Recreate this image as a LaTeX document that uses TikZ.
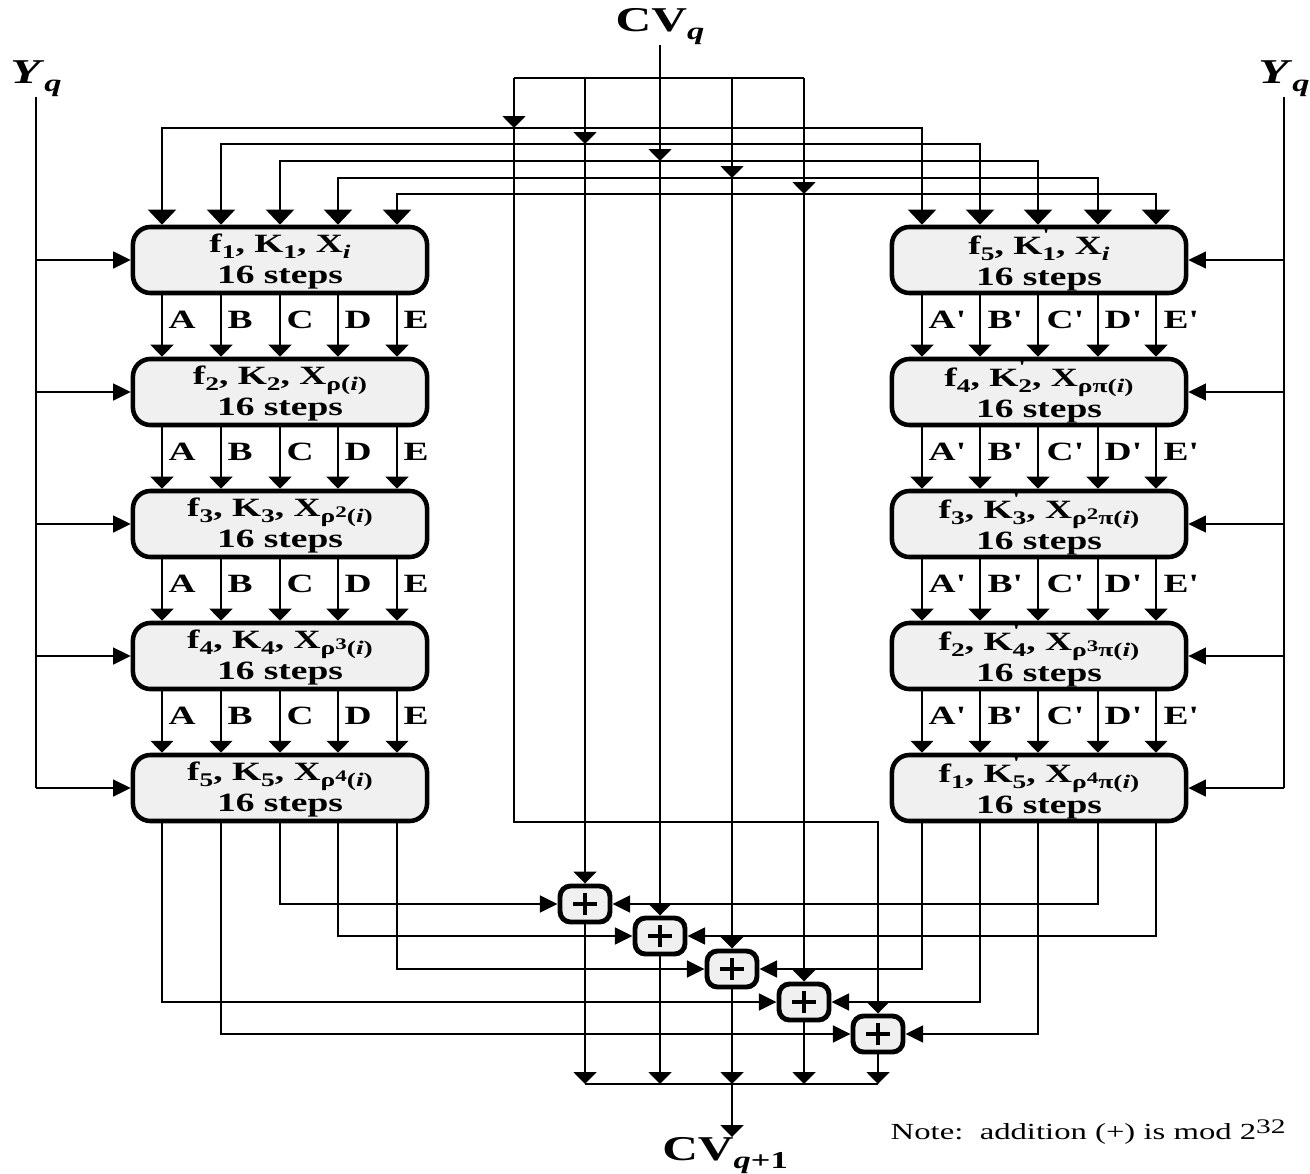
\documentclass[tikz,border=0pt]{standalone}
\usepackage{fontspec}
\setmainfont{Liberation Serif}[FakeStretch=1.42,Ligatures=TeXOff]
\usetikzlibrary{arrows.meta}
\newcommand{\sbs}[2]{\raisebox{-0.5ex}{\fontsize{#1}{#1}\selectfont #2}}
\newcommand{\lo}[1]{\sbs{5.5}{#1}}
\newcommand{\lop}[1]{\rlap{\raisebox{1.1ex}{\fontsize{5.5}{5.5}\selectfont '}}\lo{#1}}
\newcommand{\hi}[1]{\raisebox{0.55ex}{\fontsize{4.6}{4.6}\selectfont #1}}
\newcommand{\stp}{\rule{0pt}{6pt}}
\begin{document}
\begin{tikzpicture}[x=0.01cm,y=-0.01cm,
  ln/.style={line width=0.6pt},
  arrV/.style={ln,-{Triangle[width=6.5pt,length=3.4pt]}},
  arrT/.style={ln,{Triangle[width=8pt,length=4.3pt]}-{Triangle[width=8pt,length=4.3pt]}},
  arrH/.style={ln,-{Triangle[width=4.8pt,length=5pt]}},
  rnd/.style={draw,line width=1.3pt,fill=gray!12,rounded corners=5pt,
    minimum width=2.94cm,minimum height=0.66cm,inner sep=0pt,align=center,
    font=\bfseries\fontsize{7.5}{8.9}\selectfont},
  adder/.style={draw,line width=1.4pt,fill=gray!12,rounded corners=3pt,
    minimum width=0.5cm,minimum height=0.36cm,inner sep=0pt,
    path picture={
      \draw[line width=1.3pt] ([xshift=-3.4pt]path picture bounding box.center) -- ([xshift=3.4pt]path picture bounding box.center);
      \draw[line width=1.3pt] ([yshift=-3.2pt]path picture bounding box.center) -- ([yshift=3.2pt]path picture bounding box.center);}},
  lbl/.style={anchor=west,inner sep=0pt,font=\bfseries\fontsize{7.5}{7.5}\selectfont},
  big/.style={inner sep=0pt,font=\bfseries\fontsize{9.9}{9.9}\selectfont}
]
\useasboundingbox (0,0) rectangle (1310,1173);

% boxes
\node[rnd] (L1) at (280,260) {\stp f\lo{1}, K\lo{1}, X\lo{\textit{i}}\\16 steps};
\node[rnd] (L2) at (280,392) {\stp f\lo{2}, K\lo{2}, X\lo{ρ(\textit{i})}\\16 steps};
\node[rnd] (L3) at (280,524) {\stp f\lo{3}, K\lo{3}, X\lo{ρ\hi{2}(\textit{i})}\\16 steps};
\node[rnd] (L4) at (280,656) {\stp f\lo{4}, K\lo{4}, X\lo{ρ\hi{3}(\textit{i})}\\16 steps};
\node[rnd] (L5) at (280,788) {\stp f\lo{5}, K\lo{5}, X\lo{ρ\hi{4}(\textit{i})}\\16 steps};
\node[rnd] (R1) at (1039,260) {\stp f\lo{5}, K\lop{1}, X\lo{\textit{i}}\\16 steps};
\node[rnd] (R2) at (1039,392) {\stp f\lo{4}, K\lop{2}, X\lo{ρπ(\textit{i})}\\16 steps};
\node[rnd] (R3) at (1039,524) {\stp f\lo{3}, K\lop{3}, X\lo{ρ\hi{2}π(\textit{i})}\\16 steps};
\node[rnd] (R4) at (1039,656) {\stp f\lo{2}, K\lop{4}, X\lo{ρ\hi{3}π(\textit{i})}\\16 steps};
\node[rnd] (R5) at (1039,788) {\stp f\lo{1}, K\lop{5}, X\lo{ρ\hi{4}π(\textit{i})}\\16 steps};

% adders
\node[adder] (A1) at (585,904) {};
\node[adder] (A2) at (660,936) {};
\node[adder] (A3) at (732,969) {};
\node[adder] (A4) at (804,1002) {};
\node[adder] (A5) at (878,1034) {};

% labels
\node[big,anchor=south] (cvq) at (660,45) {CV\sbs{6.9}{\textit{q}}};
\node[big,anchor=north] (cvq1) at (725,1137) {CV\sbs{6.9}{\textit{q}+1}};
\node[big,anchor=south] (yl) at (36,97) {\textit{Y}\sbs{6.9}{\textit{q}}};
\node[big,anchor=south] (yr) at (1284,97) {\textit{Y}\sbs{6.9}{\textit{q}}};
\node[anchor=west,inner sep=0pt,font=\fontsize{6.55}{6.55}\selectfont] (note) at (890,1132)
  {Note:\ \ addition (+) is mod 2\raisebox{0.6ex}{\fontsize{5.9}{5.9}\selectfont 32}};

% lanes
\coordinate (la) at (162,0); \coordinate (lb) at (221,0); \coordinate (lc) at (280,0);
\coordinate (ld) at (338,0); \coordinate (le) at (397,0);
\coordinate (ra) at (922,0); \coordinate (rb) at (980,0); \coordinate (rc) at (1038,0);
\coordinate (rd) at (1098,0); \coordinate (re) at (1156,0);
\coordinate (ha) at (0,128); \coordinate (hb) at (0,144); \coordinate (hc) at (0,161);
\coordinate (hd) at (0,178); \coordinate (he) at (0,194);
\coordinate (bus) at (0,78); \coordinate (ob) at (0,1084);
\coordinate (c0) at (514,78); \coordinate (c0b) at (514,822);

% between boxes
\foreach \k/\n in {1/2,2/3,3/4,4/5}{
  \foreach \l in {a,b,c,d,e}{
    \draw[arrV] (L\k.south -| l\l) -- (L\n.north -| l\l);
    \draw[arrV] (R\k.south -| r\l) -- (R\n.north -| r\l);
  }
}
\foreach \k/\yy in {1/320,2/452,3/584,4/716}{
  \foreach \l/\tx/\xx in {a/A/168,b/B/227,c/C/286,d/D/344,e/E/403}{
    \node[lbl] (lab\l\k) at (\xx,\yy) {\tx};
    \node[lbl] (rlab\l\k) at (\xx+760,\yy) {\tx'};
  }
}

% top distribution
\foreach \l in {a,b,c,d,e}{
  \draw[arrT] (L1.north -| l\l) -- (l\l |- h\l) -- (r\l |- h\l) -- (R1.north -| r\l);
}

% CV_q
\draw[ln] (c0) -- (A4 |- bus);
\draw[arrV] (cvq.south) -- (A2 |- hc);
\draw[arrV] (A2 |- hc) -- (A2.north);
\draw[arrV] (A1 |- bus) -- (A1 |- hb);
\draw[arrV] (A1 |- hb) -- (A1.north);
\draw[arrV] (A3 |- bus) -- (A3 |- hd);
\draw[arrV] (A3 |- hd) -- (A3.north);
\draw[arrV] (A4 |- bus) -- (A4 |- he);
\draw[arrV] (A4 |- he) -- (A4.north);
\draw[arrV] (c0) -- (c0 |- ha);
\draw[arrV] (c0 |- ha) -- (c0b) -| (A5.north);

% Y_q
\draw[ln] (yl.south) -- (yl.south |- L5.west);
\draw[ln] (yr.south) -- (yr.south |- R5.west);
\foreach \k in {1,...,5}{
  \draw[arrH] (yl.south |- L\k.west) -- (L\k.west);
  \draw[arrH] (yr.south |- R\k.east) -- (R\k.east);
}

% into adders
\draw[arrH] (L5.south -| lc) |- (A1.west);
\draw[arrH] (L5.south -| ld) |- (A2.west);
\draw[arrH] (L5.south -| le) |- (A3.west);
\draw[arrH] (L5.south -| la) |- (A4.west);
\draw[arrH] (L5.south -| lb) |- (A5.west);
\draw[arrH] (R5.south -| rd) |- (A1.east);
\draw[arrH] (R5.south -| re) |- (A2.east);
\draw[arrH] (R5.south -| ra) |- (A3.east);
\draw[arrH] (R5.south -| rb) |- (A4.east);
\draw[arrH] (R5.south -| rc) |- (A5.east);

% outputs
\foreach \k in {1,...,5}{
  \draw[arrV] (A\k.south) -- (A\k |- ob);
}
\draw[ln] (A1 |- ob) -- (A5 |- ob);
\draw[arrV] (A3 |- ob) -- (A3 |- cvq1.north);
\end{tikzpicture}
\end{document}
